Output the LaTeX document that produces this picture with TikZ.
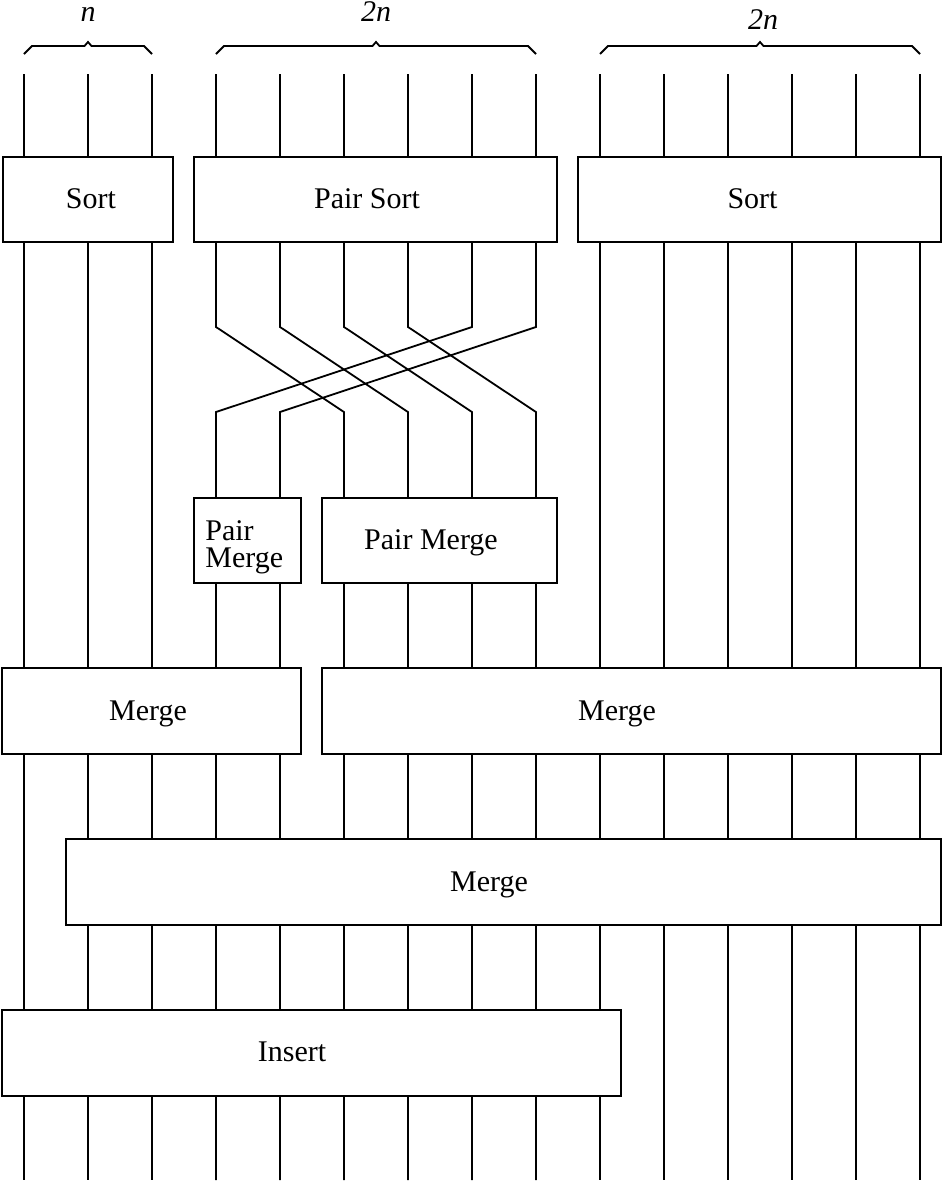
\documentclass[tikz,border=0pt]{standalone}
\usepackage{fontspec}
\setmainfont{Liberation Serif}
\usetikzlibrary{fit}
\begin{document}
\begin{tikzpicture}[x=0.5pt,y=-0.5pt,
  wire/.style={line width=0.9pt},
  box/.style={draw, line width=0.9pt, fill=white, inner sep=0pt},
  lbl/.style={font=\fontsize{15}{18}\selectfont, inner sep=0pt, anchor=base},
  lbll/.style={font=\fontsize{15}{18}\selectfont, inner sep=0pt, anchor=base west},
  itl/.style={font=\fontsize{15}{18}\selectfont\itshape, inner sep=0pt, anchor=base},
  brc/.style={line width=0.9pt, line join=miter}]
\useasboundingbox (0,0) rectangle (943,1184);
% wire end points
\foreach \i in {1,...,15} {
  \coordinate (t\i) at ({24+64*(\i-1)},74);
  \coordinate (u\i) at ({24+64*(\i-1)},327);
  \coordinate (d\i) at ({24+64*(\i-1)},412);
  \coordinate (b\i) at ({24+64*(\i-1)},1180);
}
% straight wires
\foreach \i in {1,2,3,10,11,12,13,14,15} {
  \draw[wire] (t\i) -- (b\i);
}
% crossing wires
\draw[wire] (t4) -- (u4) -- (d6) -- (b6);
\draw[wire] (t5) -- (u5) -- (d7) -- (b7);
\draw[wire] (t6) -- (u6) -- (d8) -- (b8);
\draw[wire] (t7) -- (u7) -- (d9) -- (b9);
\draw[wire] (t8) -- (u8) -- (d4) -- (b4);
\draw[wire] (t9) -- (u9) -- (d5) -- (b5);
% braces
\draw[brc] (24,54) -- (32,46) -- (84.5,46) -- (88,42) -- (91.5,46) -- (144,46) -- (152,54);
\draw[brc] (216,54) -- (224,46) -- (372.5,46) -- (376,42) -- (379.5,46) -- (528,46) -- (536,54);
\draw[brc] (600,54) -- (608,46) -- (756.5,46) -- (760,42) -- (763.5,46) -- (912,46) -- (920,54);
\node[itl] (l1) at (88,21) {n};
\node[itl] (l2) at (376,21) {2n};
\node[itl] (l3) at (763,29) {2n};
% box corners
\coordinate (sA1) at (3,157);   \coordinate (sA2) at (173,242);
\coordinate (pS1) at (194,157); \coordinate (pS2) at (557,242);
\coordinate (sB1) at (578,157); \coordinate (sB2) at (941,242);
\coordinate (pA1) at (194,498); \coordinate (pA2) at (301,583);
\coordinate (pB1) at (322,498); \coordinate (pB2) at (557,583);
\coordinate (mA1) at (2,668);   \coordinate (mA2) at (301,754);
\coordinate (mB1) at (322,668); \coordinate (mB2) at (941,754);
\coordinate (mC1) at (66,839);  \coordinate (mC2) at (941,925);
\coordinate (in1) at (2,1010);  \coordinate (in2) at (621,1096);
% boxes
\node[box, fit=(sA1)(sA2)] (sortA) {};
\node[box, fit=(pS1)(pS2)] (pairsort) {};
\node[box, fit=(sB1)(sB2)] (sortB) {};
\node[box, fit=(pA1)(pA2)] (pmA) {};
\node[box, fit=(pB1)(pB2)] (pmB) {};
\node[box, fit=(mA1)(mA2)] (mergeA) {};
\node[box, fit=(mB1)(mB2)] (mergeB) {};
\node[box, fit=(mC1)(mC2)] (mergeC) {};
\node[box, fit=(in1)(in2)] (insert) {};
% texts
\node[lbl] (tsortA) at (91,208) {Sort};
\node[lbl] (tpairsort) at (367,208) {Pair Sort};
\node[lbl] (tsortB) at (752.5,208) {Sort};
\node[lbll] (tpmA1) at (205,540) {Pair};
\node[lbll] (tpmA2) at (205,567) {Merge};
\node[lbl] (tpmB) at (431,549) {Pair Merge};
\node[lbl] (tmergeA) at (148,720) {Merge};
\node[lbl] (tmergeB) at (617,720) {Merge};
\node[lbl] (tmergeC) at (489,891) {Merge};
\node[lbl] (tinsert) at (292,1061) {Insert};
\end{tikzpicture}
\end{document}
